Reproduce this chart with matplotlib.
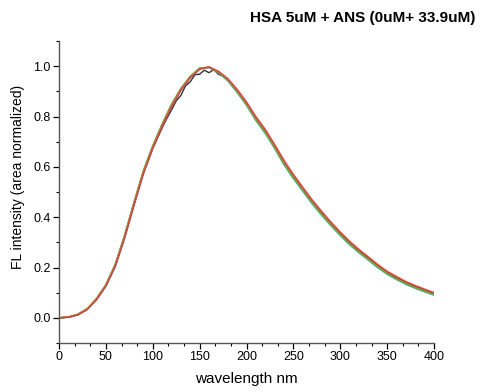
import numpy as np
import matplotlib
matplotlib.use('Agg')
import matplotlib.pyplot as plt
from matplotlib.ticker import MultipleLocator, FormatStrFormatter

plt.rcParams['font.family'] = ['Liberation Sans', 'DejaVu Sans']

# wavelength grid (every 10 nm) as plotted on the reference axis
WL = [0, 10, 20, 30, 40, 50, 60, 70, 80, 90, 100, 110, 120, 130, 140, 150, 160,
      170, 180, 190, 200, 210, 220, 230, 240, 250, 260, 270, 280, 290, 300,
      310, 320, 330, 340, 350, 360, 370, 380, 390, 400]

# area-normalised spectra, one per titration step
FL_RED = [0.0, 0.002, 0.011, 0.032, 0.071, 0.125, 0.203, 0.316, 0.446, 0.571, 0.672,
          0.758, 0.837, 0.903, 0.953, 0.987, 0.997, 0.980, 0.951, 0.908, 0.858,
          0.800, 0.749, 0.689, 0.626, 0.570, 0.519, 0.469, 0.424, 0.381, 0.341,
          0.304, 0.272, 0.242, 0.212, 0.185, 0.164, 0.144, 0.128, 0.114, 0.100]
FL_GREEN = [0.0, 0.003, 0.013, 0.035, 0.075, 0.130, 0.210, 0.325, 0.456, 0.581, 0.681,
            0.767, 0.846, 0.910, 0.958, 0.991, 0.996, 0.976, 0.945, 0.899, 0.848,
            0.787, 0.737, 0.677, 0.612, 0.557, 0.507, 0.457, 0.412, 0.369, 0.330,
            0.293, 0.261, 0.232, 0.202, 0.175, 0.154, 0.135, 0.119, 0.105, 0.092]
FL_OLIVE = [0.0, 0.003, 0.013, 0.035, 0.075, 0.129, 0.209, 0.324, 0.455, 0.580, 0.680,
            0.766, 0.845, 0.909, 0.957, 0.990, 0.996, 0.977, 0.946, 0.900, 0.849,
            0.789, 0.739, 0.679, 0.614, 0.559, 0.509, 0.459, 0.414, 0.371, 0.332,
            0.295, 0.263, 0.234, 0.204, 0.177, 0.156, 0.137, 0.121, 0.107, 0.094]
FL_CYAN = [0.0, 0.003, 0.014, 0.036, 0.077, 0.132, 0.213, 0.329, 0.460, 0.585, 0.684,
           0.770, 0.849, 0.912, 0.960, 0.993, 0.995, 0.974, 0.942, 0.896, 0.845,
           0.784, 0.733, 0.673, 0.608, 0.553, 0.503, 0.453, 0.408, 0.366, 0.327,
           0.290, 0.258, 0.229, 0.199, 0.173, 0.152, 0.133, 0.117, 0.103, 0.090]
FL_BLUE = [0.0, 0.003, 0.014, 0.036, 0.076, 0.131, 0.212, 0.327, 0.458, 0.583, 0.682,
           0.768, 0.847, 0.910, 0.958, 0.991, 0.995, 0.975, 0.943, 0.897, 0.846,
           0.786, 0.735, 0.675, 0.610, 0.555, 0.505, 0.455, 0.410, 0.368, 0.329,
           0.292, 0.260, 0.231, 0.201, 0.175, 0.154, 0.135, 0.119, 0.105, 0.092]

# first spectrum (no ANS added) is noisy around the maximum, read at 5 nm
WL_BLACK = [0, 10, 20, 30, 40, 50, 60, 70, 80, 90, 100, 110, 115, 120, 125, 130,
            135, 140, 145, 150, 155, 160, 165, 170, 175, 180, 190, 200, 210, 220,
            230, 240, 250, 260, 270, 280, 290, 300, 310, 320, 330, 340, 350, 360,
            370, 380, 390, 400]
FL_BLACK = [0.0, 0.003, 0.012, 0.034, 0.073, 0.127, 0.206, 0.320, 0.450, 0.575, 0.674,
            0.755, 0.792, 0.826, 0.862, 0.884, 0.922, 0.938, 0.966, 0.968, 0.984,
            0.974, 0.986, 0.968, 0.960, 0.947, 0.902, 0.851, 0.792, 0.742, 0.682,
            0.617, 0.562, 0.512, 0.462, 0.417, 0.374, 0.335, 0.298, 0.266, 0.237,
            0.207, 0.180, 0.159, 0.140, 0.124, 0.110, 0.097]

fig = plt.figure(figsize=(4.82, 3.92), dpi=100, facecolor='white')
ax = fig.add_axes([59 / 482, 1 - 343 / 392, 375 / 482, 302 / 392])

ax.plot(WL_BLACK, FL_BLACK, color='#333333', lw=1.0)
ax.plot(WL, FL_BLUE, color='#3355cc', lw=1.1, alpha=0.85)
ax.plot(WL, FL_CYAN, color='#33cccc', lw=1.1, alpha=0.85)
ax.plot(WL, FL_GREEN, color='#44aa44', lw=1.1, alpha=0.9)
ax.plot(WL, FL_OLIVE, color='#999933', lw=1.1, alpha=0.9)
ax.plot(WL, FL_RED, color='#ee3333', lw=1.1, alpha=0.9)

ax.set_xlim(0, 400)
ax.set_ylim(-0.1, 1.1)
ax.xaxis.set_major_locator(MultipleLocator(50))
ax.xaxis.set_minor_locator(MultipleLocator(50 / 3))
ax.yaxis.set_minor_locator(MultipleLocator(0.1))
ax.set_yticks(np.arange(0, 1.01, 0.2))
ax.yaxis.set_major_formatter(FormatStrFormatter('%.1f'))

for s in ('top', 'right'):
    ax.spines[s].set_visible(False)
for s in ('left', 'bottom'):
    ax.spines[s].set_color('#555555')
    ax.spines[s].set_linewidth(1.0)

ax.tick_params(which='major', direction='out', length=4, width=0.9,
               labelsize=9, color='black', pad=2)
ax.tick_params(which='minor', direction='out', length=2.5, width=0.8, color='black')

ax.set_xlabel('wavelength nm', fontsize=11)
ax.set_ylabel('FL intensity (area normalized)', fontsize=10)
ax.xaxis.set_label_coords(0.4987, -0.095)
ax.yaxis.set_label_coords(-0.09, 0.55)

fig.text(250 / 482, 1 - 18 / 392, 'HSA 5uM + ANS (0uM+ 33.9uM)',
         ha='left', va='center', fontsize=11, fontweight='bold')

fig.savefig('out.png', dpi=100, facecolor='white')
